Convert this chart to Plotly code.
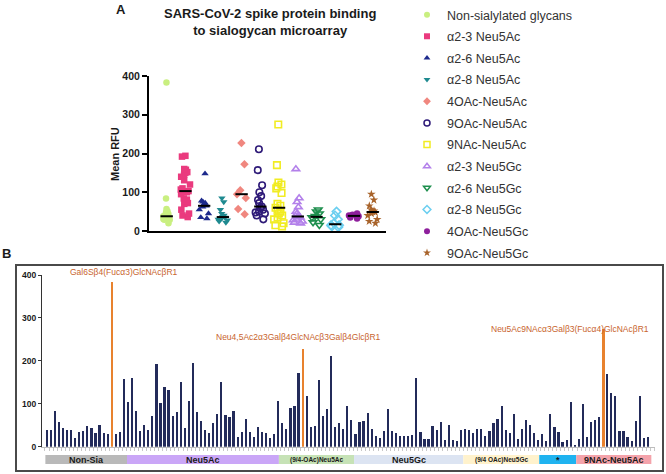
import numpy as np
import plotly.graph_objects as go

# ---------------- DATA ----------------
# Panel A: mean RFU per glycan, grouped by sialic acid type / linkage
a_groups = ["Non-sialylated glycans", "α2-3 Neu5Ac", "α2-6 Neu5Ac", "α2-8 Neu5Ac",
            "4OAc-Neu5Ac", "9OAc-Neu5Ac", "9NAc-Neu5Ac", "α2-3 Neu5Gc",
            "α2-6 Neu5Gc", "α2-8 Neu5Gc", "4OAc-Neu5Gc", "9OAc-Neu5Gc"]
a_nonsia = [39, 39, 84, 57, 44, 38, 38, 20, 35, 36, 49, 44, 32, 51, 31, 29, 383, 29, 35]
a_a23_neu5ac = [194, 192, 160, 158, 152, 150, 145, 140, 131, 120, 110, 107, 103,
                102, 100, 95, 84, 81, 77, 72, 70, 55, 45, 40, 36]
a_a26_neu5ac = [148, 78, 75, 72, 70, 65, 62, 55, 45, 35, 32]
a_a28_neu5ac = [85, 75, 55, 45, 40, 37, 35, 33, 30, 28, 25, 22]
a_4oac_neu5ac = [227, 172, 105, 95, 85, 57, 43]
a_9oac_neu5ac = [211, 157, 118, 100, 90, 80, 72, 63, 60, 55, 50, 48, 45, 40, 30]
a_9nac_neu5ac = [275, 170, 125, 120, 115, 110, 98, 70, 65, 60, 55, 50, 45, 40, 35, 30, 20, 15, 12]
a_a23_neu5gc = [160, 85, 75, 62, 50, 45, 38, 37, 35, 30, 28, 25, 22, 20]
a_a26_neu5gc = [55, 50, 45, 38, 35, 30, 22, 15]
a_a28_neu5gc = [50, 40, 30, 20, 15, 12, 10, 15]
a_4oac_neu5gc = [45, 42, 40, 38, 35, 32]
a_9oac_neu5gc = [95, 80, 65, 55, 52, 50, 48, 45, 40, 30, 25, 20]
a_values = [a_nonsia, a_a23_neu5ac, a_a26_neu5ac, a_a28_neu5ac, a_4oac_neu5ac,
            a_9oac_neu5ac, a_9nac_neu5ac, a_a23_neu5gc, a_a26_neu5gc, a_a28_neu5gc,
            a_4oac_neu5gc, a_9oac_neu5gc]

# Panel B: mean RFU for every glycan on the array (in array order)
b_rfu = [
    39, 39, 84, 57, 44, 38, 38, 20, 35, 36, 49, 44, 32, 51, 31, 29, 383, 29, 35,
    158, 103, 160, 84, 36, 51, 38, 71, 192, 102, 140, 131, 72, 81, 150, 44, 107, 194, 81, 59,
    40, 33, 56, 77, 150, 75, 70, 83, 22, 34, 64, 35, 23, 46, 35, 31, 20, 29,
    106, 56, 42, 90, 95, 171, 227, 117, 47, 49, 156, 71, 87, 211, 47, 55,
    42, 95, 62, 30, 57, 59, 78, 42, 25, 21, 36, 88, 36, 32, 25, 25, 25, 27, 160, 34,
    17, 17, 48, 38, 57, 15, 51, 15, 14, 39, 42, 39, 32, 42, 41, 24, 36, 55, 65, 95,
    39, 33, 77, 18, 42, 62, 50, 33, 16, 30, 14, 76, 45, 35, 12, 16, 103, 5, 18, 99,
    23, 58, 62, 70, 275, 170, 124, 119, 36, 36, 23, 14, 60, 117, 20, 23]
b_highlight_idx = [16, 63, 137]
b_highlight_labels = ["Gal6Sβ4(Fucα3)GlcNAcβR1",
                      "Neu4,5Ac2α3Galβ4GlcNAcβ3Galβ4GlcβR1",
                      "Neu5Ac9NAcα3Galβ3(Fucα4)GlcNAcβR1"]
# glycan class bands (in glycan-index units)
cat_names = ["Non-Sia", "Neu5Ac", "(9/4-OAc)Neu5Ac", "Neu5Gc", "(9/4 OAc)Neu5Gc", "*", "9NAc-Neu5Ac"]
cat_start = [-0.4, 19.7, 57.1, 75.6, 102.5, 121.2, 130.3]
cat_end = [19.7, 57.1, 75.6, 102.5, 121.2, 130.3, 148.8]

# ---------------- STYLE ----------------
W, H = 666, 474
FONT = "Liberation Sans, Arial, Helvetica, sans-serif"
sym = ["circle", "square", "triangle-up", "triangle-down", "diamond", "circle-open",
       "square-open", "triangle-up-open", "triangle-down-open", "diamond-open", "circle", "star"]
col = ["#c9ef80", "#ea3a7e", "#1d2a8c", "#1f8a90", "#f0877f", "#2e1a78",
       "#f1ec22", "#b380ea", "#1e8f4e", "#6ccff0", "#8e1f9c", "#a8632a"]
cat_colors = ["#b9b9b9", "#caa6f7", "#c6e2b6", "#dce4f2", "#fff2cc", "#1fb3f0", "#f4a3ab"]
bar_navy = "#232b5a"
bar_orange = "#e8822e"
ann_color = "#c8642e"

def px(xp):
    return xp / W

def py(yp):
    return 1 - yp / H

fig = go.Figure()

# ---- Panel A ----
for i, (name, vals) in enumerate(zip(a_groups, a_values)):
    is_open = sym[i].endswith("open")
    fig.add_trace(go.Box(
        x=[i] * len(vals), y=vals, xaxis="x", yaxis="y",
        boxpoints="all", jitter=0.9, pointpos=0, width=0.7,
        fillcolor="rgba(0,0,0,0)", line=dict(width=0, color="rgba(0,0,0,0)"),
        marker=dict(symbol=sym[i], color=col[i], size=6.5,
                    line=dict(color=col[i], width=1.6 if is_open else 0)),
        showlegend=False, hoverinfo="y"))
    med = float(np.median(vals))
    fig.add_trace(go.Scatter(
        x=[i - 0.33, i + 0.33], y=[med, med], mode="lines", xaxis="x", yaxis="y",
        line=dict(color="black", width=2), showlegend=False, hoverinfo="skip"))
    # legend entry
    fig.add_trace(go.Scatter(
        x=[None], y=[None], mode="markers", name=name, legendgroup=name,
        marker=dict(symbol=sym[i], color=col[i], size=6,
                    line=dict(color=col[i], width=1.5 if is_open else 0)),
        xaxis="x", yaxis="y"))

# ---- Panel B ----
idx = list(range(len(b_rfu)))
bar_cols = [bar_orange if k in b_highlight_idx else bar_navy for k in idx]
bar_w = [0.62 if k in b_highlight_idx else 0.42 for k in idx]
fig.add_trace(go.Bar(x=idx, y=b_rfu, width=bar_w, marker=dict(color=bar_cols, line=dict(width=0)),
                     xaxis="x2", yaxis="y2", showlegend=False))

ann_shift = [(12, 10), (-4, 12), (-33, 0)]
annotations = []
for k, lab, (dx, dy) in zip(b_highlight_idx, b_highlight_labels, ann_shift):
    annotations.append(dict(x=k, y=b_rfu[k], xref="x2", yref="y2", text=lab, showarrow=False,
                            xanchor="center", yanchor="middle",
                            xshift=dx, yshift=dy, font=dict(family=FONT, size=8.5, color=ann_color)))

shapes = []
for nm, s, e, c in zip(cat_names, cat_start, cat_end, cat_colors):
    shapes.append(dict(type="rect", xref="x2", yref="paper", x0=s, x1=e,
                       y0=py(464), y1=py(455), fillcolor=c, line=dict(width=0), layer="below"))
    small = nm.startswith("(")
    annotations.append(dict(x=(s + e) / 2, y=py(459.5), xref="x2", yref="paper", text=nm,
                            xanchor="center", yanchor="middle", showarrow=False,
                            font=dict(family=FONT, size=6.5 if small else 9,
                                      color="#1a1a1a", weight="bold")))

# panel B frame
shapes.append(dict(type="rect", xref="paper", yref="paper", x0=px(16), x1=px(663),
                   y0=py(471), y1=py(265), line=dict(color="#4a4a4a", width=2),
                   fillcolor="rgba(0,0,0,0)"))

# titles and labels
annotations += [
    dict(x=px(270), y=py(22), xref="paper", yref="paper", showarrow=False,
         xanchor="center", yanchor="middle",
         text="SARS-CoV-2 spike protein binding<br>to sialogycan microarray",
         font=dict(family=FONT, size=13, color="#1a1a1a", weight="bold")),
    dict(x=px(121), y=py(10), xref="paper", yref="paper", showarrow=False, text="A",
         xanchor="center", yanchor="middle",
         font=dict(family=FONT, size=13, color="#1a1a1a", weight="bold")),
    dict(x=px(6), y=py(253), xref="paper", yref="paper", showarrow=False, text="B",
         xanchor="center", yanchor="middle",
         font=dict(family=FONT, size=13, color="#1a1a1a", weight="bold")),
    dict(x=px(115), y=py(154), xref="paper", yref="paper", showarrow=False, text="Mean RFU",
         xanchor="center", yanchor="middle",
         textangle=-90, font=dict(family=FONT, size=11, color="#1a1a1a", weight="bold")),
]

fig.update_layout(
    width=W, height=H, margin=dict(l=0, r=0, t=0, b=0, autoexpand=False),
    paper_bgcolor="white", plot_bgcolor="white",
    font=dict(family=FONT, color="#222"),
    boxmode="overlay", bargap=0, hovermode=False,
    xaxis=dict(domain=[px(149), px(386)], range=[-0.945, 11.71], anchor="y", automargin=False,
               showline=True, linecolor="black", linewidth=2, showticklabels=False,
               ticks="", showgrid=False, zeroline=False),
    yaxis=dict(domain=[py(231), py(76)], range=[0, 400], anchor="x", automargin=False,
               tickvals=[0, 100, 200, 300, 400], ticks="outside", ticklen=5, tickwidth=2,
               tickcolor="black", showline=True, linecolor="black", linewidth=2,
               showgrid=False, zeroline=False,
               tickfont=dict(family=FONT, size=10.5, color="#1a1a1a", weight="bold")),
    xaxis2=dict(domain=[px(42), px(655)], range=[-1.23, 149.7], anchor="y2", automargin=False,
                showline=True, linecolor="#bdbdbd", linewidth=1, showticklabels=False,
                tick0=-0.5, dtick=1, ticks="outside", ticklen=3, tickcolor="#c8c8c8",
                showgrid=False, zeroline=False),
    yaxis2=dict(domain=[py(446.7), py(275)], range=[0, 400], anchor="x2", automargin=False,
                tickvals=[0, 100, 200, 300, 400], ticks="outside", ticklen=3, tickwidth=1,
                tickcolor="#333", showline=True, linecolor="#333", linewidth=1.2,
                showgrid=False, zeroline=False,
                tickfont=dict(family=FONT, size=8.5, color="#1a1a1a", weight="bold")),
    legend=dict(x=px(407), y=py(134), xanchor="left", yanchor="middle",
                font=dict(family=FONT, size=12.5, color="#333"),
                traceorder="grouped", tracegroupgap=2.4, bgcolor="rgba(0,0,0,0)",
                itemsizing="trace"),
    shapes=shapes, annotations=annotations,
)

# remove the browser's default 8px page margin so the figure sits at the window origin
fig.write_html("out.html", config={"displayModeBar": False},
               post_script="document.body.style.margin='0px';")
